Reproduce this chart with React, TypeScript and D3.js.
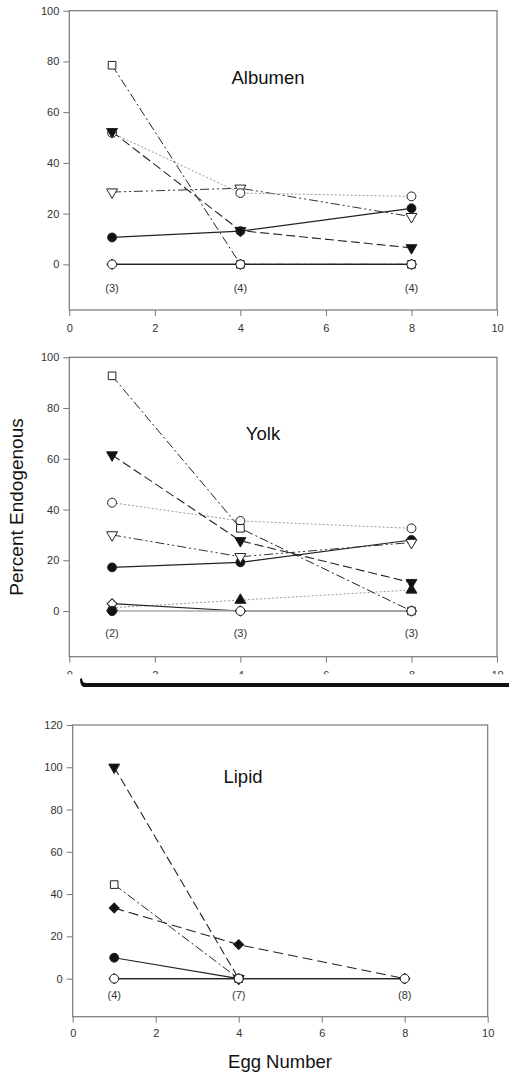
import React, { useEffect, useRef } from 'react';
import * as d3 from 'd3';

// egg numbers sampled
const eggNumbers = [1, 4, 8];

// Albumen
const albumenOpenSquare = [78.5, 0, 0];
const albumenFilledDownTri = [52.3, 13.3, 6.5];
const albumenOpenCircle = [51.8, 28.1, 26.8];
const albumenOpenDownTri = [28.5, 30, 18.8];
const albumenFilledCircle = [10.6, 13.1, 22.1];
const albumenBaseline = [0, 0, 0];
const albumenSampleSizes = ['(3)', '(4)', '(4)'];

// Yolk
const yolkOpenSquare = [92.7, 32.6, 0];
const yolkFilledDownTri = [61.5, 27.7, 11.2];
const yolkOpenCircle = [42.7, 35.5, 32.6];
const yolkOpenDownTri = [30, 21.4, 27];
const yolkFilledCircle = [17.2, 19.2, 28];
const yolkFilledUpTri = [1.3, 4.3, 8.3];
const yolkOpenDiamond = [2.9, 0, 0];
const yolkFilledBaseline = [0, null, null];
const yolkBaseline = [0, 0, 0];
const yolkSampleSizes = ['(2)', '(3)', '(3)'];

// Lipid
const lipidFilledDownTri = [100, 0, null];
const lipidOpenSquare = [44.5, 0, null];
const lipidFilledDiamond = [33.4, 16.1, 0];
const lipidFilledCircle = [9.9, 0, null];
const lipidBaseline = [0, 0, 0];
const lipidSampleSizes = ['(4)', '(7)', '(8)'];

const xTicks = [0, 2, 4, 6, 8, 10];
const yTicks100 = [0, 20, 40, 60, 80, 100];
const yTicks120 = [0, 20, 40, 60, 80, 100, 120];

type Series = {
  values: (number | null)[];
  marker: string;
  dash: string;
  stroke: string;
  width: number;
};

const DASH = {
  solid: '',
  longDash: '9,4',
  dotted: '2,2',
  dashDot: '9,3,2,3',
  dashDotDot: '9,3,2,3,2,3',
  dashed: '10,5',
};

// series are listed in drawing order (last one ends up on top)
const makePanels = () => [
  {
    title: 'Albumen', titleX: 268, titleY: 84,
    left: 69.3, right: 497, top: 10.7, bottom: 310, yMax: 100, yTicks: yTicks100,
    labels: albumenSampleSizes, labelY: -9.5, xLabelDy: 18, clipTicks: false,
    series: [
      { values: albumenFilledCircle, marker: 'filledCircle', dash: DASH.solid, stroke: '#222', width: 1.2 },
      { values: albumenOpenDownTri, marker: 'openDownTri', dash: DASH.dashDotDot, stroke: '#333', width: 1 },
      { values: albumenOpenCircle, marker: 'openCircle', dash: DASH.dotted, stroke: '#999', width: 1 },
      { values: albumenFilledDownTri, marker: 'filledDownTri', dash: DASH.longDash, stroke: '#222', width: 1.1 },
      { values: albumenOpenSquare, marker: 'openSquare', dash: DASH.dashDot, stroke: '#222', width: 1 },
      { values: albumenBaseline, marker: 'openDiamond', dash: DASH.solid, stroke: '#222', width: 1.2 },
      { values: albumenBaseline, marker: 'openCircle', dash: DASH.solid, stroke: '#222', width: 1.2 },
    ] as Series[],
  },
  {
    title: 'Yolk', titleX: 263, titleY: 440,
    left: 69.3, right: 497, top: 357.3, bottom: 656.7, yMax: 100, yTicks: yTicks100,
    labels: yolkSampleSizes, labelY: -8.7, xLabelDy: 18, clipTicks: true,
    series: [
      { values: yolkFilledUpTri, marker: 'filledUpTri', dash: DASH.dotted, stroke: '#999', width: 1 },
      { values: yolkFilledCircle, marker: 'filledCircle', dash: DASH.solid, stroke: '#222', width: 1.2 },
      { values: yolkOpenDownTri, marker: 'openDownTri', dash: DASH.dashDotDot, stroke: '#333', width: 1 },
      { values: yolkOpenCircle, marker: 'openCircle', dash: DASH.dotted, stroke: '#999', width: 1 },
      { values: yolkFilledDownTri, marker: 'filledDownTri', dash: DASH.longDash, stroke: '#222', width: 1.1 },
      { values: yolkOpenSquare, marker: 'openSquare', dash: DASH.dashDot, stroke: '#222', width: 1 },
      { values: yolkOpenDiamond, marker: 'openDiamond', dash: DASH.solid, stroke: '#222', width: 1.1 },
      { values: yolkBaseline, marker: 'openCircle', dash: DASH.solid, stroke: '#aaa', width: 1.4 },
      { values: yolkFilledBaseline, marker: 'filledCircle', dash: DASH.solid, stroke: '#999', width: 1.4 },
    ] as Series[],
  },
  {
    title: 'Lipid', titleX: 243, titleY: 783,
    left: 72.7, right: 487.7, top: 725, bottom: 1016.7, yMax: 120, yTicks: yTicks120,
    labels: lipidSampleSizes, labelY: -7.9, xLabelDy: 16, clipTicks: false,
    series: [
      { values: lipidFilledCircle, marker: 'filledCircle', dash: DASH.solid, stroke: '#222', width: 1.2 },
      { values: lipidFilledDiamond, marker: 'filledDiamond', dash: DASH.dashed, stroke: '#222', width: 1.1 },
      { values: lipidOpenSquare, marker: 'openSquare', dash: DASH.dashDot, stroke: '#222', width: 1 },
      { values: lipidFilledDownTri, marker: 'filledDownTri', dash: DASH.longDash, stroke: '#222', width: 1.1 },
      { values: lipidBaseline, marker: 'openDiamond', dash: DASH.solid, stroke: '#222', width: 1.2 },
      { values: lipidBaseline, marker: 'openCircle', dash: DASH.solid, stroke: '#222', width: 1.2 },
    ] as Series[],
  },
];

const markerPath = (m: string) => {
  if (m.includes('Circle')) return d3.symbol(d3.symbolCircle, 62)();
  if (m.includes('Square')) return d3.symbol(d3.symbolSquare, 58)();
  if (m.includes('Diamond')) return d3.symbol(d3.symbolSquare, 50)();
  return d3.symbol(d3.symbolTriangle, 52)();
};
const markerRotate = (m: string) => {
  if (m.includes('Diamond')) return 45;
  if (m.includes('DownTri')) return 180;
  return 0;
};

const App = () => {
  const ref = useRef<SVGSVGElement>(null);

  useEffect(() => {
    const svg = d3.select(ref.current);
    svg.selectAll('*').remove();
    const font = 'Arial, "Liberation Sans", sans-serif';

    makePanels().forEach((p, pi) => {
      const x = d3.scaleLinear().domain([0, 10]).range([p.left, p.right]);
      const y = d3.scaleLinear().domain([-18, p.yMax]).range([p.bottom, p.top]);
      const g = svg.append('g');

      // y axis
      const ya = g.append('g')
        .attr('transform', `translate(${p.left},0)`)
        .call(d3.axisLeft(y).tickValues(p.yTicks).tickSize(6).tickSizeOuter(0));
      ya.select('.domain').remove();
      ya.selectAll('line').attr('stroke', '#777');
      ya.selectAll('text').attr('font-family', font).attr('font-size', 11).attr('fill', '#333').attr('x', -10);

      // x axis
      const xa = g.append('g')
        .attr('transform', `translate(0,${p.bottom})`)
        .call(d3.axisBottom(x).tickValues(xTicks).tickSize(6).tickSizeOuter(0));
      xa.select('.domain').remove();
      xa.selectAll('line').attr('stroke', '#777');
      xa.selectAll('text').attr('font-family', font).attr('font-size', 11).attr('fill', '#333')
        .attr('y', p.xLabelDy).attr('dy', '0.35em');

      if (p.clipTicks) {
        // the scan cut the bottom half of these tick labels off
        const id = `clip${pi}`;
        xa.append('clipPath').attr('id', id).append('rect')
          .attr('x', 0).attr('y', -20).attr('width', 509).attr('height', 37.5);
        xa.selectAll('.tick text').attr('clip-path', null);
        xa.attr('clip-path', `url(#${id})`);
      }

      // frame
      g.append('rect')
        .attr('x', p.left).attr('y', p.top)
        .attr('width', p.right - p.left).attr('height', p.bottom - p.top)
        .attr('fill', 'none').attr('stroke', '#777').attr('stroke-width', 1.2);

      // title
      g.append('text')
        .attr('x', p.titleX).attr('y', p.titleY)
        .attr('text-anchor', 'middle').attr('font-family', font).attr('font-size', 18.5).attr('fill', '#111')
        .text(p.title);

      // sample sizes
      g.selectAll('.n').data(p.labels).enter().append('text')
        .attr('x', (_d, i) => x(eggNumbers[i])).attr('y', y(p.labelY))
        .attr('dy', '0.35em').attr('text-anchor', 'middle')
        .attr('font-family', font).attr('font-size', 11).attr('fill', '#333')
        .text(d => d);

      const line = d3.line<[number, number | null]>()
        .defined(d => d[1] !== null)
        .x(d => x(d[0]))
        .y(d => y(d[1] as number));

      p.series.forEach(s => {
        const pts: [number, number | null][] = eggNumbers.map((e, i) => [e, s.values[i]]);
        g.append('path')
          .attr('d', line(pts))
          .attr('fill', 'none')
          .attr('stroke', s.stroke)
          .attr('stroke-width', s.width)
          .attr('stroke-dasharray', s.dash || null);
      });

      p.series.forEach(s => {
        const filled = s.marker.startsWith('filled');
        const pts = eggNumbers.map((e, i) => [e, s.values[i]]).filter(d => d[1] !== null) as [number, number][];
        g.selectAll(null).data(pts).enter().append('path')
          .attr('d', markerPath(s.marker))
          .attr('transform', d => `translate(${x(d[0])},${y(d[1])}) rotate(${markerRotate(s.marker)})`)
          .attr('fill', filled ? '#111' : '#fff')
          .attr('stroke', '#222')
          .attr('stroke-width', 1);
      });
    });

    // scanning artefact bar under the yolk panel
    svg.append('path')
      .attr('d', 'M82,678 Q82,683 86,683 L509,683 L509,687 L84,687 Q80,686 80,679 Z')
      .attr('fill', '#111');

    // axis titles
    svg.append('text')
      .attr('transform', 'translate(23,507) rotate(-90)')
      .attr('text-anchor', 'middle').attr('font-family', font).attr('font-size', 19).attr('fill', '#111')
      .text('Percent Endogenous');
    svg.append('text')
      .attr('x', 280).attr('y', 1068)
      .attr('text-anchor', 'middle').attr('font-family', font).attr('font-size', 18.5).attr('fill', '#111')
      .text('Egg Number');
  }, []);

  return (
    <svg ref={ref} width={509} height={1075}
      style={{ position: 'absolute', left: 0, top: 0, background: '#fff' }} />
  );
};

export default App;
